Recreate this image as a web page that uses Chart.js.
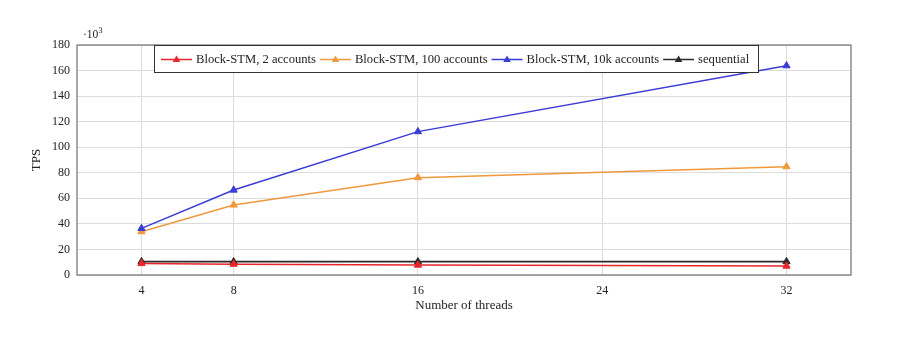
<!DOCTYPE html>
<html>
<head>
<meta charset="utf-8">
<script src="https://cdn.jsdelivr.net/npm/chart.js@4.4.1/dist/chart.umd.min.js"></script>
<style>
  html, body { margin: 0; padding: 0; background: #fff; }
  #wrap { width: 912px; height: 338px; position: relative; }
</style>
</head>
<body>
<div id="wrap"><canvas id="tpsChart"></canvas></div>
<script>
// thread counts on the x axis
const threads = [4, 8, 16, 32];
const xTicks = [4, 8, 16, 24, 32];

// TPS in thousands (axis shows ·10^3)
const stm2 = [9.0, 8.5, 7.8, 7.0];
const stm100 = [33.9, 54.8, 76.2, 84.8];
const stm10k = [36.5, 66.5, 112.2, 163.8];
const sequential = [10.5, 10.4, 10.4, 10.5];

const seriesNames = ['Block-STM, 2 accounts', 'Block-STM, 100 accounts', 'Block-STM, 10k accounts', 'sequential'];
const seriesColors = ['#e8262a', '#f0993c', '#3b3bd6', '#2a2a2a'];

const serif = "'Liberation Serif', 'DejaVu Serif', serif";

function toPoints(vals) {
    return vals.map((v, i) => ({ x: threads[i], y: v }));
}

const allSeries = [stm2, stm100, stm10k, sequential];
const datasets = allSeries.map((vals, i) => ({
    label: seriesNames[i],
    data: toPoints(vals),
    borderColor: seriesColors[i],
    backgroundColor: seriesColors[i],
    borderWidth: i === 3 ? 1.8 : 1.5,
    pointStyle: 'triangle',
    pointRadius: 4.2,
    pointBorderWidth: 1,
    tension: 0
}));
// red line sits on top of the sequential line
datasets.forEach((d, i) => { d.order = i === 0 ? 0 : 4 - i; });

// box around plot, the ·10^3 label and the framed legend
const decor = {
    id: 'decor',
    afterDraw(chart) {
        const ctx = chart.ctx;
        const a = chart.chartArea;
        ctx.save();
        ctx.strokeStyle = '#7a7a7a';
        ctx.lineWidth = 1.3;
        ctx.strokeRect(a.left, a.top, a.right - a.left, a.bottom - a.top);

        // exponent label
        ctx.fillStyle = '#222';
        ctx.font = '11.5px ' + serif;
        ctx.textBaseline = 'alphabetic';
        ctx.fillText('\u00b710', a.left + 6, 38);
        ctx.font = '8px ' + serif;
        ctx.fillText('3', a.left + 21.5, 33);

        // legend
        const boxL = 154, boxT = a.top, boxR = 758, boxB = 72;
        ctx.fillStyle = '#fff';
        ctx.fillRect(boxL, boxT, boxR - boxL, boxB - boxT);
        ctx.strokeStyle = '#333';
        ctx.lineWidth = 1;
        ctx.strokeRect(boxL + 0.5, boxT + 0.5, boxR - boxL, boxB - boxT);

        ctx.font = '12.6px ' + serif;
        ctx.textBaseline = 'middle';
        const cy = (boxT + boxB) / 2 + 1;
        let x = 161;
        seriesNames.forEach((name, i) => {
            ctx.strokeStyle = seriesColors[i];
            ctx.fillStyle = seriesColors[i];
            ctx.lineWidth = 1.5;
            ctx.beginPath();
            ctx.moveTo(x, cy);
            ctx.lineTo(x + 31, cy);
            ctx.stroke();
            const tx = x + 15.5;
            ctx.beginPath();
            ctx.moveTo(tx, cy - 4);
            ctx.lineTo(tx + 3.8, cy + 2.5);
            ctx.lineTo(tx - 3.8, cy + 2.5);
            ctx.closePath();
            ctx.fill();
            ctx.fillStyle = '#222';
            ctx.fillText(name, x + 35, cy);
            x += 35 + ctx.measureText(name).width + 4;
        });
        ctx.restore();
    }
};

new Chart(document.getElementById('tpsChart'), {
    type: 'line',
    data: { datasets: datasets },
    options: {
        responsive: true,
        maintainAspectRatio: false,
        animation: false,
        layout: { padding: { top: 45, right: 61, left: 0, bottom: 0 } },
        plugins: {
            legend: { display: false },
            tooltip: { enabled: false }
        },
        scales: {
            x: {
                type: 'linear',
                min: 1.2,
                max: 34.8,
                afterBuildTicks: (scale) => { scale.ticks = xTicks.map(v => ({ value: v })); },
                afterFit: (scale) => { scale.height = 63; },
                grid: { color: '#dcdcdc', lineWidth: 1, drawTicks: false },
                border: { display: false },
                ticks: { color: '#222', font: { family: serif, size: 12 }, padding: 9 },
                title: {
                    display: true,
                    text: 'Number of threads',
                    color: '#222',
                    font: { family: serif, size: 13 },
                    padding: { top: 0, bottom: 25 }
                }
            },
            y: {
                min: 0,
                max: 180,
                afterFit: (scale) => { scale.width = 77; },
                grid: { color: '#dcdcdc', lineWidth: 1, drawTicks: false },
                border: { display: false },
                ticks: { stepSize: 20, color: '#222', font: { family: serif, size: 12 }, padding: 7 },
                title: {
                    display: true,
                    text: 'TPS',
                    color: '#222',
                    font: { family: serif, size: 13 },
                    padding: { top: 29, bottom: 0 }
                }
            }
        }
    },
    plugins: [decor]
});
</script>
</body>
</html>
